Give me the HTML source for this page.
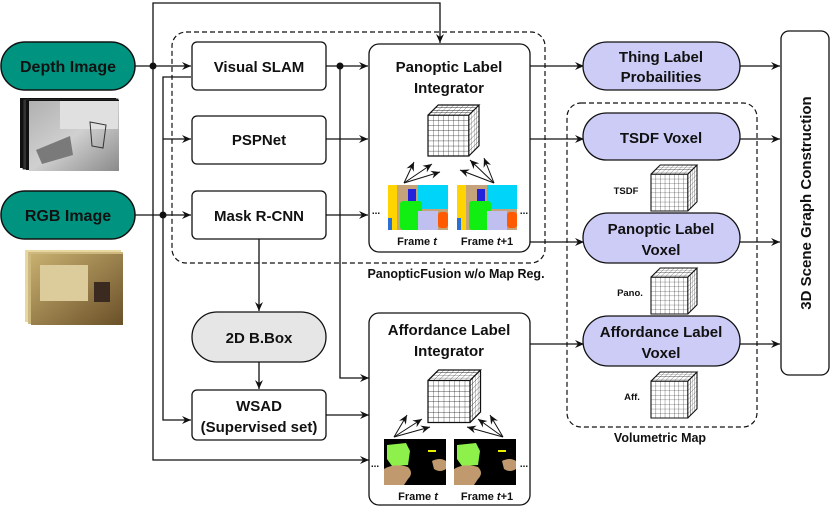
<!DOCTYPE html>
<html><head><meta charset="utf-8"><style>
html,body{margin:0;padding:0;background:#fff}
svg{display:block}
text{font-family:"Liberation Sans",sans-serif;font-weight:bold;fill:#111}
</style></head><body>
<svg width="831" height="507" viewBox="0 0 831 507" xmlns="http://www.w3.org/2000/svg">
<defs>
<marker id="a" markerWidth="10" markerHeight="8" refX="9" refY="4" orient="auto" markerUnits="userSpaceOnUse">
<path d="M0,0 L9,4 L0,8 L3,4 Z" fill="#111"/></marker>
<linearGradient id="dg" x1="0" y1="0" x2="1" y2="1"><stop offset="0" stop-color="#b0b0b0"/><stop offset="0.5" stop-color="#d0d0d0"/><stop offset="1" stop-color="#8a8a8a"/></linearGradient>
<linearGradient id="rg" x1="0" y1="0" x2="1" y2="1"><stop offset="0" stop-color="#c8b070"/><stop offset="1" stop-color="#6a5028"/></linearGradient>
<pattern id="gf" width="5" height="5" patternUnits="userSpaceOnUse"><path d="M0,0H5M0,0V5" stroke="#111" stroke-width="0.6" fill="none"/></pattern>
<pattern id="gt" width="5" height="2.5" patternUnits="userSpaceOnUse"><path d="M0,0H5M0,0V2.5" stroke="#111" stroke-width="0.6" fill="none"/></pattern>
<pattern id="gs" width="2.5" height="5" patternUnits="userSpaceOnUse"><path d="M0,0H2.5M0,0V5" stroke="#111" stroke-width="0.6" fill="none"/></pattern>
<g id="cube">
<rect x="0" y="10" width="40" height="40" fill="#fff"/>
<rect x="0" y="10" width="40" height="40" fill="url(#gf)"/>
<g transform="matrix(1,0,-1,1,10,0)"><rect width="40" height="10" fill="#fff"/><rect width="40" height="10" fill="url(#gt)"/></g>
<g transform="matrix(1,-1,0,1,40,10)"><rect width="10" height="40" fill="#fff"/><rect width="10" height="40" fill="url(#gs)"/></g>
<path d="M0,10H40V50H0Z M0,10L10,0H50L40,10 M50,0V40L40,50" fill="none" stroke="#111" stroke-width="1.2"/>
</g>
<g id="pimg">
<rect width="60" height="45" fill="#c4a27a"/>
<rect x="0" y="0" width="9" height="45" fill="#ffd400"/>
<rect x="0" y="33" width="4" height="12" fill="#2a6fd6"/>
<rect x="20" y="4" width="8" height="14" fill="#2222dd"/>
<rect x="30" y="0" width="30" height="24" fill="#00d4f8"/>
<rect x="12" y="16" width="22" height="29" rx="3" fill="#11ee11"/>
<rect x="30" y="26" width="20" height="19" fill="#c0c0f0"/>
<rect x="50" y="27" width="10" height="16" rx="3" fill="#ff5a00"/>
</g>
<g id="aimg">
<rect width="62" height="46" fill="#000"/>
<path d="M3,6 L22,4 L26,12 L24,26 L8,27 L3,20Z" fill="#8ef04a"/>
<path d="M0,30 Q10,24 24,28 Q30,34 24,40 L20,46 L0,46Z" fill="#c09a6e"/>
<path d="M48,22 Q56,18 62,22 L62,30 Q56,34 50,30Z" fill="#c09a6e"/>
<rect x="44" y="11" width="8" height="2" fill="#e8f000"/>
</g>
</defs>

<rect x="1" y="42" width="134" height="48" rx="24" fill="#009480" stroke="#111" stroke-width="1.5"/>
<text x="68" y="72" font-size="16" text-anchor="middle">Depth Image</text>
<rect x="1" y="191" width="134" height="48" rx="24" fill="#009480" stroke="#111" stroke-width="1.5"/>
<text x="68" y="221" font-size="16" text-anchor="middle">RGB Image</text>
<!-- depth stack -->
<rect x="20" y="98" width="96" height="70" fill="#111"/>
<rect x="23" y="99" width="95" height="70" fill="#333" stroke="#111" stroke-width="0.8"/>
<rect x="26" y="100" width="93" height="70" fill="#111"/>
<rect x="29" y="101" width="90" height="70" fill="url(#dg)"/>
<rect x="60" y="101" width="58" height="28" fill="#e0e0e0"/>
<path d="M36,150 L70,136 L73,155 L42,164Z" fill="#7a7a7a"/>
<path d="M90,122 L106,125 L103,148 L92,146Z" fill="none" stroke="#333" stroke-width="1"/>
<!-- rgb stack -->
<rect x="25" y="250" width="96" height="72" fill="#e8d8a0"/>
<rect x="28" y="252" width="95" height="72" fill="#cdb880"/>
<rect x="31" y="254" width="92" height="71" fill="url(#rg)"/>
<rect x="40" y="265" width="48" height="36" fill="#dccc9c"/>
<rect x="94" y="282" width="16" height="20" fill="#3a2a20"/>

<rect x="172" y="32" width="373" height="231" rx="14" fill="none" stroke="#111" stroke-width="1.2" stroke-dasharray="5,3"/>
<text x="456" y="278" font-size="12.5" text-anchor="middle">PanopticFusion w/o Map Reg.</text>
<rect x="567" y="103" width="190" height="324" rx="14" fill="none" stroke="#111" stroke-width="1.2" stroke-dasharray="5,3"/>
<text x="660" y="442" font-size="12.5" text-anchor="middle">Volumetric Map</text>

<g stroke="#111" stroke-width="1.3" fill="none">
<path d="M135,66H191" marker-end="url(#a)"/>
<path d="M153,66V3H440V43" marker-end="url(#a)"/>
<path d="M153,66V460H369" marker-end="url(#a)"/>
<path d="M135,215H191" marker-end="url(#a)"/>
<path d="M191,77H163V420H191" marker-end="url(#a)"/>
<path d="M163,139H191" marker-end="url(#a)"/>
<path d="M326,66H368" marker-end="url(#a)"/>
<path d="M340,66V378H369" marker-end="url(#a)"/>
<path d="M326,139H368" marker-end="url(#a)"/>
<path d="M326,215H368" marker-end="url(#a)"/>
<path d="M259,238V311" marker-end="url(#a)"/>
<path d="M259,362V389" marker-end="url(#a)"/>
<path d="M326,415H369" marker-end="url(#a)"/>
<path d="M530,66H584" marker-end="url(#a)"/>
<path d="M530,139H584" marker-end="url(#a)"/>
<path d="M530,242H584" marker-end="url(#a)"/>
<path d="M530,344H584" marker-end="url(#a)"/>
<path d="M740,66H780" marker-end="url(#a)"/>
<path d="M740,139H780" marker-end="url(#a)"/>
<path d="M740,242H780" marker-end="url(#a)"/>
<path d="M740,344H780" marker-end="url(#a)"/>
</g>
<circle cx="153" cy="66" r="3.5" fill="#111"/>
<circle cx="163" cy="215" r="3.5" fill="#111"/>
<circle cx="340" cy="66" r="3.5" fill="#111"/>

<g fill="#fff" stroke="#111" stroke-width="1.3">
<rect x="192" y="42" width="134" height="48" rx="5"/>
<rect x="192" y="116" width="134" height="48" rx="5"/>
<rect x="192" y="191" width="134" height="48" rx="5"/>
<rect x="192" y="390" width="134" height="50" rx="5"/>
<rect x="192" y="312" width="134" height="50" rx="25" fill="#e6e6e6"/>
<rect x="369" y="44" width="161" height="208" rx="10"/>
<rect x="369" y="313" width="161" height="192" rx="10"/>
<rect x="781" y="31" width="48" height="344" rx="8"/>
</g>
<text x="259" y="72" font-size="15" text-anchor="middle">Visual SLAM</text>
<text x="259" y="145" font-size="15" text-anchor="middle">PSPNet</text>
<text x="259" y="221" font-size="15" text-anchor="middle">Mask R-CNN</text>
<text x="259" y="343" font-size="15" text-anchor="middle">2D B.Box</text>
<text x="259" y="411" font-size="15" text-anchor="middle">WSAD</text>
<text x="259" y="432" font-size="15" text-anchor="middle">(Supervised set)</text>
<text x="449" y="72" font-size="15" text-anchor="middle">Panoptic Label</text>
<text x="449" y="93" font-size="15" text-anchor="middle">Integrator</text>
<text x="449" y="335" font-size="15" text-anchor="middle">Affordance Label</text>
<text x="449" y="356" font-size="15" text-anchor="middle">Integrator</text>
<text transform="translate(811,203) rotate(-90)" font-size="15" text-anchor="middle">3D Scene Graph Construction</text>

<use href="#cube" transform="translate(428,105) scale(1.02)"/>
<g stroke="#111" stroke-width="1" fill="none">
<path d="M404,183L414,162" marker-end="url(#a)"/><path d="M404,183L432,164" marker-end="url(#a)"/><path d="M404,183L440,172" marker-end="url(#a)"/>
<path d="M494,183L484,158" marker-end="url(#a)"/><path d="M494,183L470,160" marker-end="url(#a)"/><path d="M494,183L460,170" marker-end="url(#a)"/>
</g>
<use href="#pimg" x="388" y="185"/>
<use href="#pimg" x="457" y="185"/>
<text x="376" y="214" font-size="10" text-anchor="middle">...</text>
<text x="524" y="214" font-size="10" text-anchor="middle">...</text>
<text x="417" y="245" font-size="11" text-anchor="middle">Frame <tspan font-style="italic">t</tspan></text>
<text x="487" y="245" font-size="11" text-anchor="middle">Frame <tspan font-style="italic">t</tspan>+1</text>

<use href="#cube" transform="translate(428,370) scale(1.05)"/>
<g stroke="#111" stroke-width="1" fill="none">
<path d="M394,437L407,415" marker-end="url(#a)"/><path d="M394,437L422,419" marker-end="url(#a)"/><path d="M394,437L430,427" marker-end="url(#a)"/>
<path d="M503,437L490,415" marker-end="url(#a)"/><path d="M503,437L478,419" marker-end="url(#a)"/><path d="M503,437L467,427" marker-end="url(#a)"/>
</g>
<use href="#aimg" x="384" y="439"/>
<use href="#aimg" x="454" y="439"/>
<text x="375" y="467" font-size="10" text-anchor="middle">...</text>
<text x="524" y="467" font-size="10" text-anchor="middle">...</text>
<text x="418" y="500" font-size="11" text-anchor="middle">Frame <tspan font-style="italic">t</tspan></text>
<text x="487" y="500" font-size="11" text-anchor="middle">Frame <tspan font-style="italic">t</tspan>+1</text>

<g fill="#ccccf7" stroke="#111" stroke-width="1.3">
<rect x="583" y="42" width="157" height="48" rx="24"/>
<rect x="583" y="113" width="157" height="47" rx="23.5"/>
<rect x="583" y="213" width="157" height="50" rx="25"/>
<rect x="583" y="316" width="157" height="50" rx="25"/>
</g>
<text x="661" y="62" font-size="15" text-anchor="middle">Thing Label</text>
<text x="661" y="82" font-size="15" text-anchor="middle">Probailities</text>
<text x="661" y="143" font-size="15" text-anchor="middle">TSDF Voxel</text>
<text x="661" y="234" font-size="15" text-anchor="middle">Panoptic Label</text>
<text x="661" y="255" font-size="15" text-anchor="middle">Voxel</text>
<text x="661" y="337" font-size="15" text-anchor="middle">Affordance Label</text>
<text x="661" y="358" font-size="15" text-anchor="middle">Voxel</text>

<use href="#cube" transform="translate(651,165) scale(0.92)"/>
<text x="626" y="194" font-size="9.5" text-anchor="middle">TSDF</text>
<use href="#cube" transform="translate(651,268) scale(0.92)"/>
<text x="630" y="296" font-size="9.5" text-anchor="middle">Pano.</text>
<use href="#cube" transform="translate(651,372) scale(0.92)"/>
<text x="632" y="400" font-size="9.5" text-anchor="middle">Aff.</text>
</svg>
</body></html>
